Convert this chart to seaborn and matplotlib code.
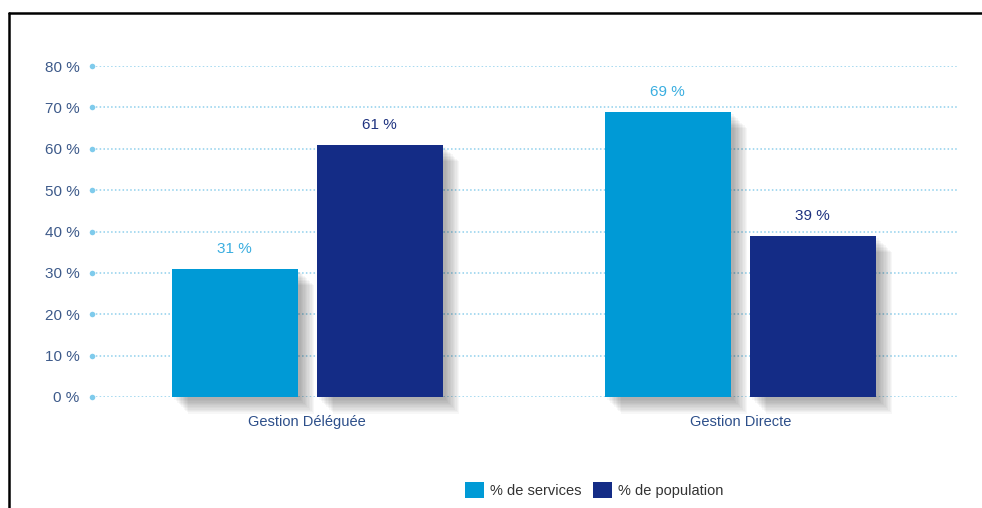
import matplotlib
matplotlib.use("Agg")
import matplotlib.pyplot as plt
import matplotlib.patheffects as pe
from matplotlib.lines import Line2D
from matplotlib.patches import Patch
import seaborn as sns
import pandas as pd

categories = ["Gestion Déléguée", "Gestion Directe"]
series_names = ["% de services", "% de population"]
services = [31, 69]
population = [61, 39]
y_ticks = [0, 10, 20, 30, 40, 50, 60, 70, 80]
y_tick_labels = [f"{t} %" for t in y_ticks]

colors = {"% de services": "#009ad6", "% de population": "#142c86"}
label_colors = {"% de services": "#3aaee0", "% de population": "#1f3380"}

df = pd.DataFrame({
    "gestion": categories * 2,
    "serie": [series_names[0]] * 2 + [series_names[1]] * 2,
    "valeur": services + population,
})

sns.set_theme(style="white")
plt.rcParams["font.family"] = ["Liberation Sans Narrow", "Liberation Sans", "DejaVu Sans"]

fig = plt.figure(figsize=(9.82, 5.08), dpi=100)
ax = fig.add_axes([92 / 982, (508 - 397) / 508, (958 - 92) / 982, (397 - 66) / 508])

sns.barplot(data=df, x="gestion", y="valeur", hue="serie", order=categories,
            hue_order=series_names, palette=colors, width=0.67, gap=0.13,
            saturation=1, ax=ax, legend=False, zorder=3)

# soft drop shadow behind each bar
shadow = [pe.SimplePatchShadow(offset=(o, -o), shadow_rgbFace="#000000", alpha=0.03)
          for o in (2, 3, 4, 5, 6, 7, 8, 9, 10, 11, 12)]
for patch in ax.patches:
    patch.set_linewidth(0)
    patch.set_clip_on(False)
    patch.set_path_effects(shadow + [pe.Normal()])

for cont, name in zip(ax.containers, series_names):
    ax.bar_label(cont, labels=[f"{int(v)} %" for v in cont.datavalues],
                 padding=9, color=label_colors[name], fontsize=11, clip_on=False)

ax.set_ylim(0, 80)
ax.set_xlim(-0.497, 1.503)
ax.set_yticks(y_ticks)
ax.set_yticklabels(y_tick_labels)
ax.yaxis.grid(True, color="#8fd0ec", linestyle=(0, (1, 1.5)), linewidth=1.1, zorder=0)
ax.xaxis.grid(False)
ax.set_axisbelow(True)
for side in ax.spines.values():
    side.set_visible(False)

# round markers at the start of each grid line
ax.scatter([ax.get_xlim()[0]] * len(y_ticks), y_ticks, s=16, color="#7fcbec",
           clip_on=False, zorder=2, linewidths=0)

ax.tick_params(axis="y", length=0, pad=9, labelsize=11, labelcolor="#3d5a8a")
ax.tick_params(axis="x", length=0, pad=13, labelsize=10.5, labelcolor="#2d4f8a")
ax.set_xlabel("")
ax.set_ylabel("")

handles = [Patch(facecolor=colors[n], edgecolor="none", label=n) for n in series_names]
fig.legend(handles=handles, loc="center", bbox_to_anchor=(594 / 982, 1 - 490 / 508),
           ncol=2, frameon=False, fontsize=10.5, handlelength=1.3, handleheight=1.3,
           handletextpad=0.4, columnspacing=0.8, labelcolor="#333333")

# frame lines along the top and left edges
fig.add_artist(Line2D([9 / 982, 1], [1 - 13 / 508] * 2, color="black", linewidth=1.8,
                      transform=fig.transFigure))
fig.add_artist(Line2D([9 / 982] * 2, [0, 1 - 13 / 508], color="black", linewidth=1.8,
                      transform=fig.transFigure))

fig.savefig("out.png", dpi=100, facecolor="white")
